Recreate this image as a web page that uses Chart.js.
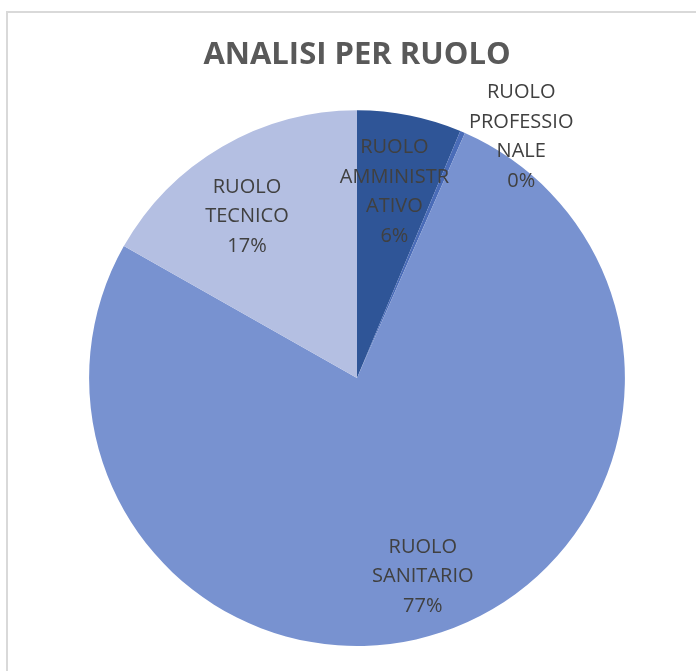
<!DOCTYPE html>
<html>
<head>
<meta charset="utf-8">
<script src="https://cdn.jsdelivr.net/npm/chart.js@4"></script>
<style>
html,body{margin:0;padding:0;background:#fff;}
#wrap{width:696px;height:671px;position:relative;}
</style>
</head>
<body>
<div id="wrap"><canvas id="c" width="696" height="671"></canvas></div>
<script>
const categories = ['RUOLO AMMINISTRATIVO', 'RUOLO PROFESSIONALE', 'RUOLO SANITARIO', 'RUOLO TECNICO'];
const values = [6.3, 0.3, 76.6, 16.8];
const labelLines = [
  ['RUOLO', 'AMMINISTR', 'ATIVO'],
  ['RUOLO', 'PROFESSIO', 'NALE'],
  ['RUOLO', 'SANITARIO'],
  ['RUOLO', 'TECNICO']
];
const colors = ['#2F5597', '#4A6CB8', '#7892D0', '#B4BFE2'];
// label placement: [radius fraction, angle offset in degrees]
const labelPlace = [[0.71, 0], [1.09, 11], [0.78, 0], [0.73, -4]];

const borderPlugin = {
  id: 'frame',
  beforeDraw(chart) {
    const ctx = chart.ctx;
    ctx.save();
    ctx.strokeStyle = '#d9d9d9';
    ctx.lineWidth = 2;
    ctx.beginPath();
    ctx.moveTo(7, 700);
    ctx.lineTo(7, 12);
    ctx.lineTo(720, 12);
    ctx.stroke();
    ctx.restore();
  }
};

const labelPlugin = {
  id: 'sliceLabels',
  afterDatasetsDraw(chart) {
    const ctx = chart.ctx;
    const meta = chart.getDatasetMeta(0);
    const total = values.reduce((a, b) => a + b, 0);
    ctx.save();
    ctx.font = '20px "Open Sans"';
    ctx.fillStyle = '#404040';
    ctx.textAlign = 'center';
    ctx.textBaseline = 'middle';
    meta.data.forEach((arc, i) => {
      const p = arc.getProps(['x', 'y', 'startAngle', 'endAngle', 'outerRadius'], true);
      const mid = (p.startAngle + p.endAngle) / 2 + labelPlace[i][1] * Math.PI / 180;
      const r = p.outerRadius * labelPlace[i][0];
      const cx = p.x + Math.cos(mid) * r;
      const cy = p.y + Math.sin(mid) * r;
      const lines = labelLines[i].concat([Math.round(values[i] / total * 100) + '%']);
      const lh = 29.5;
      const y0 = cy - (lines.length - 1) * lh / 2;
      lines.forEach((t, k) => ctx.fillText(t, cx, y0 + k * lh));
    });
    ctx.restore();
  }
};

new Chart(document.getElementById('c'), {
  type: 'pie',
  data: {
    labels: categories,
    datasets: [{
      data: values,
      backgroundColor: colors,
      borderWidth: 0
    }]
  },
  options: {
    responsive: false,
    animation: false,
    layout: { padding: { left: 89, right: 71, top: 0, bottom: 25 } },
    plugins: {
      legend: { display: false },
      tooltip: { enabled: false },
      title: {
        display: true,
        text: 'ANALISI PER RUOLO',
        color: '#595959',
        font: { family: '"Open Sans"', size: 31, weight: 'bold', lineHeight: 1.2 },
        padding: { top: 37, bottom: 36 }
      }
    }
  },
  plugins: [borderPlugin, labelPlugin]
});
</script>
</body>
</html>
